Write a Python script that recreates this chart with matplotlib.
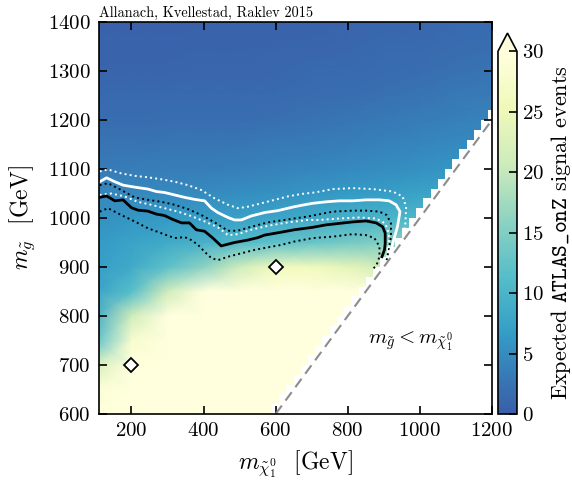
import numpy as np
import matplotlib
matplotlib.use('Agg')
import matplotlib.pyplot as plt
from matplotlib.colors import ListedColormap, Normalize
from matplotlib.patches import Polygon

plt.rcParams['font.family'] = 'serif'
plt.rcParams['font.serif'] = ['cmr10']
plt.rcParams['mathtext.fontset'] = 'cm'
plt.rcParams['axes.unicode_minus'] = False
plt.rcParams['axes.formatter.use_mathtext'] = True

# grid of the expected number of signal events
m_chi_nodes = [100, 200, 300, 400, 500, 600, 700, 800, 900, 1000, 1100, 1200]
m_gl_nodes = [600, 650, 700, 750, 800, 850, 900, 950, 1000, 1050,
              1100, 1150, 1200, 1250, 1300, 1350, 1400]
events = [
    [33.0, 35.0, 35.0, 35.0, 35.0, 35.0, 35.0, 35.0, 35.0, 35.0, 35.0, 35.0],
    [29.0, 35.0, 35.0, 35.0, 35.0, 35.0, 35.0, 35.0, 35.0, 35.0, 35.0, 35.0],
    [22.0, 34.0, 35.0, 35.0, 35.0, 35.0, 35.0, 35.0, 35.0, 35.0, 35.0, 35.0],
    [12.0, 28.0, 35.0, 35.0, 35.0, 35.0, 35.0, 35.0, 35.0, 35.0, 35.0, 35.0],
    [9.0, 21.0, 33.0, 35.0, 35.0, 35.0, 35.0, 35.0, 35.0, 35.0, 35.0, 35.0],
    [7.5, 11.5, 21.0, 30.0, 34.0, 35.0, 35.0, 33.0, 30.0, 30.0, 30.0, 30.0],
    [7.0, 8.5, 12.0, 16.0, 21.0, 26.0, 26.0, 24.0, 21.0, 21.0, 21.0, 21.0],
    [6.5, 7.5, 8.5, 9.5, 11.0, 12.0, 13.0, 14.0, 15.0, 15.0, 15.0, 15.0],
    [5.5, 6.0, 6.4, 6.8, 7.2, 7.8, 8.5, 9.3, 10.0, 10.5, 10.5, 10.5],
    [4.5, 4.6, 4.8, 5.0, 5.2, 5.5, 6.0, 6.5, 7.0, 7.6, 8.0, 8.0],
    [3.3, 3.4, 3.5, 3.6, 3.8, 4.0, 4.3, 4.7, 5.1, 5.6, 6.0, 6.0],
    [2.6, 2.6, 2.7, 2.8, 2.9, 3.1, 3.3, 3.6, 4.0, 4.4, 4.8, 5.0],
    [1.8, 1.8, 1.9, 2.0, 2.1, 2.2, 2.4, 2.7, 3.0, 3.4, 3.8, 4.2],
    [1.3, 1.3, 1.3, 1.4, 1.5, 1.6, 1.8, 2.0, 2.3, 2.6, 3.0, 3.3],
    [0.9, 0.9, 0.9, 1.0, 1.0, 1.1, 1.3, 1.5, 1.7, 2.0, 2.3, 2.6],
    [0.6, 0.6, 0.6, 0.7, 0.7, 0.8, 0.9, 1.1, 1.3, 1.5, 1.8, 2.0],
    [0.4, 0.4, 0.4, 0.5, 0.5, 0.6, 0.7, 0.8, 1.0, 1.2, 1.4, 1.6],
]

# observed limit (white) and its +-1 sigma band (white dotted)
obs_x = [112, 131, 154, 177, 209, 246, 269, 292, 320, 348, 375, 403, 422, 440,
         468, 486, 505, 532, 569, 606, 652, 680, 703, 740, 777, 814, 851, 888,
         915, 934, 945, 938, 929, 920]
obs_y = [1074, 1082, 1074, 1067, 1063, 1059, 1054, 1052, 1047, 1042, 1038, 1035,
         1020, 1011, 1001, 996, 996, 1004, 1011, 1015, 1023, 1027, 1030, 1033,
         1035, 1035, 1037, 1037, 1035, 1027, 1013, 982, 959, 935]
obs_up_x = [112, 135, 172, 209, 246, 283, 320, 357, 394, 431, 468, 495, 523, 560,
            597, 634, 671, 708, 759, 814, 869, 925, 952, 962, 960, 952, 943]
obs_up_y = [1095, 1099, 1091, 1086, 1083, 1079, 1074, 1067, 1057, 1040, 1027,
            1020, 1023, 1030, 1037, 1044, 1049, 1052, 1059, 1061, 1059, 1054,
            1044, 1023, 989, 955, 935]
obs_dn_x = [112, 144, 181, 218, 255, 292, 329, 366, 403, 440, 468, 495, 532, 578,
            634, 689, 722, 777, 832, 879, 904, 914, 914, 908]
obs_dn_y = [1047, 1050, 1044, 1033, 1027, 1020, 1013, 1004, 993, 981, 965, 967,
            976, 984, 991, 996, 996, 999, 1001, 999, 989, 969, 942, 921]

# expected limit (black) and its +-1 sigma band (black dotted)
exp_x = [112, 131, 154, 177, 200, 218, 246, 269, 292, 315, 339, 361, 380, 403,
         426, 449, 486, 523, 551, 569, 615, 652, 703, 740, 777, 814, 851, 879,
         897, 904, 904, 902, 895]
exp_y = [1042, 1045, 1035, 1037, 1021, 1016, 1014, 1008, 1005, 997, 990, 990,
         976, 973, 959, 943, 950, 955, 960, 965, 971, 976, 981, 986, 989, 992,
         994, 990, 982, 969, 948, 935, 921]
exp_up_x = [112, 135, 172, 209, 246, 283, 320, 357, 394, 431, 468, 495, 532, 578,
            634, 689, 759, 814, 851, 888, 908, 920, 920, 914, 908]
exp_up_y = [1067, 1071, 1057, 1042, 1037, 1033, 1027, 1018, 1006, 991, 974, 974,
            982, 991, 997, 1003, 1013, 1015, 1015, 1013, 1006, 989, 962, 935, 914]
exp_dn_x = [112, 135, 172, 209, 246, 283, 320, 348, 366, 385, 403, 422, 440, 468,
            505, 542, 578, 615, 652, 703, 759, 814, 851, 874, 888, 888, 880, 869]
exp_dn_y = [1013, 1020, 1006, 993, 979, 969, 959, 961, 955, 945, 931, 918, 914,
            921, 928, 935, 940, 945, 952, 959, 962, 967, 965, 959, 942, 921, 904,
            895]

# benchmark points and kinematic boundary
bench_x = [200, 600]
bench_y = [700, 900]
diag = [600, 1200]

fig = plt.figure(figsize=(5.72, 4.84), dpi=100)
ax = fig.add_axes([0.173, 0.1446, 0.687, 0.81])

# colour map: reversed YlGnBu, dark end cut, slightly washed out
cols = plt.get_cmap('YlGnBu')(np.linspace(0.8, 0.0, 256))
cols[:, :3] = cols[:, :3] * 0.9 + 0.1
cmap = ListedColormap(cols)
cmap.set_over(cols[-1])
norm = Normalize(vmin=0, vmax=30)

X, Y = np.meshgrid(m_chi_nodes, m_gl_nodes)
mesh = ax.pcolormesh(X, Y, np.array(events), cmap=cmap, norm=norm,
                     shading='gouraud', rasterized=True)

# only points with m_gluino above m_chi carry a value (20 GeV cells)
edges = np.arange(110, 1200, 20)
verts = [(100, 1500), (100, 140)]
for e in edges:
    verts += [(e, e + 30), (e + 20, e + 30)]
verts += [(1250, 1240), (1250, 1500)]
clip = Polygon(verts, closed=True, transform=ax.transData)
mesh.set_clip_path(clip)

ax.plot(obs_up_x, obs_up_y, color='white', lw=1.4, ls=':')
ax.plot(obs_dn_x, obs_dn_y, color='white', lw=1.4, ls=':')
ax.plot(exp_up_x, exp_up_y, color='black', lw=1.4, ls=':')
ax.plot(exp_dn_x, exp_dn_y, color='black', lw=1.4, ls=':')
ax.plot(obs_x, obs_y, color='white', lw=2)
ax.plot(exp_x, exp_y, color='black', lw=2)

ax.plot(diag, diag, color='0.55', lw=1.5, ls=(0, (5, 3)))
ax.plot(bench_x, bench_y, 'D', mfc='white', mec='black', ms=7, mew=1.3)

ax.text(975, 748, r'$m_{\tilde g} < m_{\tilde\chi_1^0}$', fontsize=15,
        ha='center', va='center')
ax.text(0.0, 1.004, 'Allanach, Kvellestad, Raklev 2015', fontsize=10.3,
        transform=ax.transAxes, ha='left', va='bottom')

ax.set_xlim(110, 1200)
ax.set_ylim(600, 1400)
ax.set_xticks([200, 400, 600, 800, 1000, 1200])
ax.set_yticks(np.arange(600, 1401, 100))
ax.tick_params(direction='in', top=True, right=True, length=6, width=1.2,
               labelsize=15, pad=6)
for s in ax.spines.values():
    s.set_linewidth(1.2)
ax.set_xlabel(r'$m_{\tilde\chi_1^0}$  [GeV]', fontsize=17, labelpad=6)
ax.set_ylabel(r'$m_{\tilde g}$  [GeV]', fontsize=17, labelpad=8)

cax = fig.add_axes([0.8706, 0.1446, 0.0332, 0.787])
cb = fig.colorbar(mesh, cax=cax, extend='max', ticks=np.arange(0, 31, 5))
cb.ax.tick_params(direction='in', length=6, width=1.2, labelsize=15)
cb.outline.set_linewidth(1.2)
cb.set_label(r'Expected $\mathtt{ATLAS\_onZ}$ signal events', fontsize=16)

fig.savefig('out.png', dpi=100)
